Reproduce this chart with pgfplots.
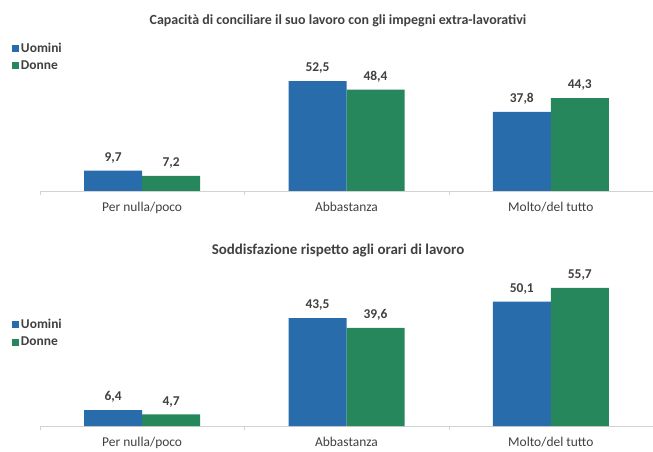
\documentclass[border=0pt]{standalone}
\usepackage{pgfplots}
\pgfplotsset{compat=1.18}
\usepackage{fontspec}
\setmainfont{Carlito}
\definecolor{uomini}{RGB}{40,108,172}
\definecolor{donne}{RGB}{38,134,92}
\definecolor{lbl}{RGB}{64,64,64}
\definecolor{axisgray}{RGB}{210,210,210}

\pgfplotsset{
  panel/.style={
    scale only axis,
    width=613bp,
    ybar, bar width=58bp,
    xmin=-0.5, xmax=2.5, ymin=0,
    axis x line*=bottom, axis y line=none,
    axis line style={axisgray},
    xtick={0,1,2},
    xticklabels={Per nulla/poco,Abbastanza,Molto/del tutto},
    major x tick style={draw=none},
    minor xtick={-0.5,0.5,1.5,2.5},
    minor tick length=4bp,
    minor x tick style={axisgray},
    tick align=outside,
    xticklabel style={font=\fontsize{13.5}{15}\selectfont, text=lbl, yshift=-3bp},
    clip=false,
    nodes near coords,
    every node near coord/.append style={font=\bfseries\fontsize{13.5}{15}\selectfont, text=lbl, yshift=4bp},
    /pgf/number format/.cd, use comma, fixed, fixed zerofill, precision=1, assume math mode=true,
    /pgfplots/.cd,
    legend cell align=left,
    legend image code/.code={\fill[##1] (0bp,-3.5bp) rectangle (7bp,3.5bp);},
    legend style={draw=none, fill=none, anchor=north west,
      font=\bfseries\fontsize{13.5}{15}\selectfont, text=lbl,
      row sep=3bp, inner sep=0bp,
      /tikz/every even column/.append style={column sep=2bp}},
  },
}

\begin{document}
\begin{tikzpicture}
\path[use as bounding box] (0,0) rectangle (653bp,452bp);

% Capacità di conciliare il suo lavoro con gli impegni extra-lavorativi
\begin{axis}[panel, at={(40bp,261bp)}, anchor=south west,
  height=120bp, ymax=57.3,
  legend style={at={(rel axis cs:-0.046,1.255)}}]
\addplot[fill=uomini, draw=none, bar shift=-29bp] coordinates {(0,9.7) (1,52.5) (2,37.8)};
\addplot[fill=donne, draw=none, bar shift=29bp] coordinates {(0,7.2) (1,48.4) (2,44.3)};
\legend{Uomini,Donne}
\end{axis}
\node[font=\bfseries\fontsize{14}{16}\selectfont, text=lbl] at (338bp,431bp)
  {Capacità di conciliare il suo lavoro con gli impegni extra-lavorativi};

% Soddisfazione rispetto agli orari di lavoro
\begin{axis}[panel, at={(40bp,26bp)}, anchor=south west,
  height=140bp, ymax=56.45,
  legend style={at={(rel axis cs:-0.046,0.78)}}]
\addplot[fill=uomini, draw=none, bar shift=-29bp] coordinates {(0,6.4) (1,43.5) (2,50.1)};
\addplot[fill=donne, draw=none, bar shift=29bp] coordinates {(0,4.7) (1,39.6) (2,55.7)};
\legend{Uomini,Donne}
\end{axis}
\node[font=\bfseries\fontsize{15}{17}\selectfont, text=lbl] at (338bp,201bp)
  {Soddisfazione rispetto agli orari di lavoro};
\end{tikzpicture}
\end{document}
